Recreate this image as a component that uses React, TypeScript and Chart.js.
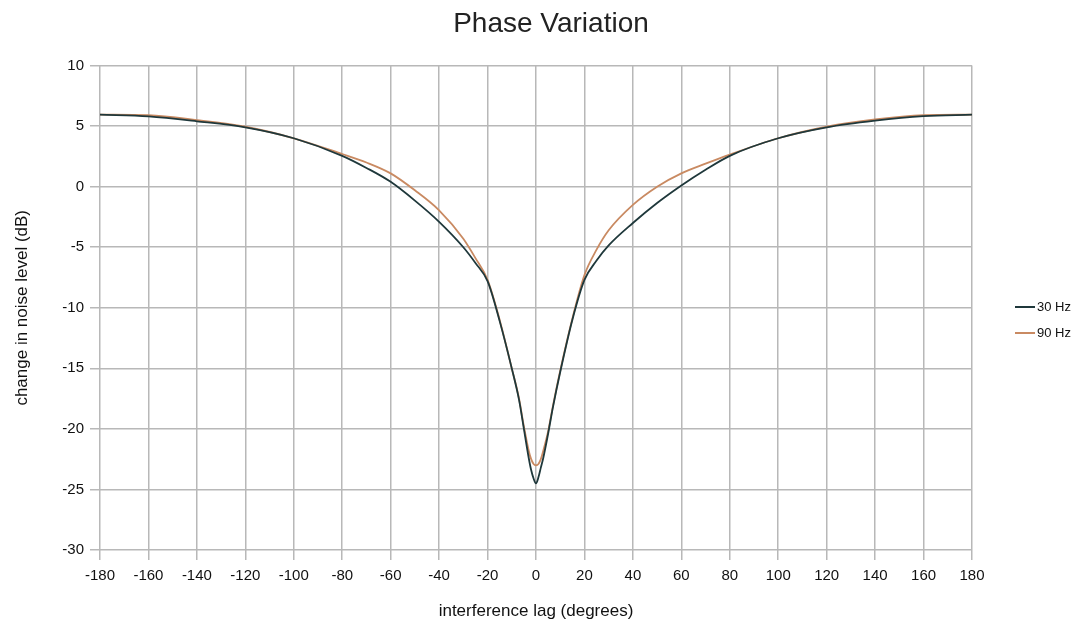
import React, { useEffect, useRef } from "react";
import { Chart, registerables } from "chart.js";

Chart.register(...registerables);

const chartTitle = "Phase Variation";
const xAxisTitle = "interference lag (degrees)";
const yAxisTitle = "change in noise level (dB)";

const seriesNames = ["30 Hz", "90 Hz"];
const seriesColors = ["#1f383b", "#c98a62"];

const lagDegrees = [
  -180, -160, -140, -120, -100, -80, -70, -60, -50, -40, -30, -25, -20, -15, -10, -7, -5, -3, -2, -1,
  0, 1, 2, 3, 5, 7, 10, 15, 20, 25, 30, 40, 50, 60, 70, 80, 100, 120, 140, 160, 180,
];

const noise30Hz = [
  5.95, 5.8, 5.4, 4.9, 4.0, 2.55, 1.55, 0.4, -1.15, -2.9, -5.0, -6.3, -7.8, -11.1, -15.0, -17.6, -20.0, -22.4, -23.4, -24.1,
  -24.5, -24.0, -23.2, -22.4, -20.4, -18.2, -15.3, -11.0, -7.7, -6.1, -4.85, -3.0, -1.35, 0.1, 1.4, 2.55, 4.0, 4.9, 5.45, 5.82, 5.95,
];

const noise90Hz = [
  5.95, 5.9, 5.5, 4.95, 4.0, 2.7, 2.0, 1.1, -0.3, -1.95, -4.3, -5.9, -7.7, -11.0, -15.0, -17.5, -19.8, -21.8, -22.5, -22.9,
  -23.0, -22.9, -22.5, -21.8, -20.2, -18.1, -15.2, -10.9, -7.3, -5.2, -3.6, -1.5, 0.0, 1.1, 1.9, 2.65, 4.0, 4.95, 5.55, 5.9, 5.95,
];

const xTicks = [-180, -160, -140, -120, -100, -80, -60, -40, -20, 0, 20, 40, 60, 80, 100, 120, 140, 160, 180];
const yTicks = [-30, -25, -20, -15, -10, -5, 0, 5, 10];

const FONT = "'Liberation Sans', Arial, sans-serif";

const legendPlugin = {
  id: "sideLegend",
  afterDraw(chart: any) {
    const ctx = chart.ctx;
    ctx.save();
    seriesNames.forEach((name, i) => {
      const y = 307 + i * 26;
      ctx.strokeStyle = seriesColors[i];
      ctx.lineWidth = 2;
      ctx.beginPath();
      ctx.moveTo(1015, y);
      ctx.lineTo(1035, y);
      ctx.stroke();
      ctx.fillStyle = "#111";
      ctx.font = `13px ${FONT}`;
      ctx.textBaseline = "middle";
      ctx.textAlign = "left";
      ctx.fillText(name, 1037, y);
    });
    ctx.restore();
  },
};

export default function App() {
  const canvasRef = useRef<HTMLCanvasElement | null>(null);

  useEffect(() => {
    const canvas = canvasRef.current;
    if (!canvas) return;
    const series = [noise30Hz, noise90Hz];
    const chart = new Chart(canvas, {
      type: "line",
      data: {
        datasets: series.map((vals, i) => ({
          label: seriesNames[i],
          data: lagDegrees.map((x, j) => ({ x, y: vals[j] })),
          borderColor: seriesColors[i],
          backgroundColor: seriesColors[i],
          borderWidth: 1.8,
          pointRadius: 0,
          cubicInterpolationMode: "monotone",
          fill: false,
          yAxisID: "y",
        })),
      },
      options: {
        responsive: false,
        animation: false,
        layout: { padding: { left: 16, right: 0, top: 0, bottom: 0 } },
        plugins: {
          legend: { display: false },
          tooltip: { enabled: false },
          title: {
            display: true,
            text: chartTitle,
            color: "#222",
            font: { family: FONT, size: 28, weight: "normal" },
            padding: { top: 7, bottom: 25 },
          },
        },
        scales: {
          x: {
            type: "linear",
            min: -180,
            max: 180,
            afterBuildTicks: (scale: any) => {
              scale.ticks = xTicks.map((v) => ({ value: v }));
            },
            afterFit: (scale: any) => {
              scale.height = 76;
            },
            ticks: {
              color: "#111",
              font: { family: FONT, size: 15 },
              padding: 7,
              maxRotation: 0,
              autoSkip: false,
            },
            grid: { color: "#b8b8b8", lineWidth: 1.5, tickLength: 10, drawTicks: true },
            border: { display: false },
            title: {
              display: true,
              text: xAxisTitle,
              color: "#111",
              font: { family: FONT, size: 17 },
              padding: { top: 10, bottom: 4 },
            },
          },
          y: {
            type: "linear",
            position: "left",
            min: -30,
            max: 10,
            afterBuildTicks: (scale: any) => {
              scale.ticks = yTicks.map((v) => ({ value: v }));
            },
            afterFit: (scale: any) => {
              scale.width = 84;
            },
            ticks: {
              color: "#111",
              font: { family: FONT, size: 15 },
              padding: 6,
              autoSkip: false,
            },
            grid: { color: "#b8b8b8", lineWidth: 1.5, tickLength: 10, drawTicks: true },
            border: { display: false },
            title: {
              display: true,
              text: yAxisTitle,
              color: "#111",
              font: { family: FONT, size: 17 },
              padding: { top: -4, bottom: 4 },
            },
          },
          legendSpace: {
            type: "linear",
            position: "right",
            display: true,
            afterFit: (scale: any) => {
              scale.width = 114;
            },
            grid: { display: false, drawTicks: false },
            border: { display: false },
            ticks: { display: false },
          },
        },
      },
      plugins: [legendPlugin],
    });
    return () => chart.destroy();
  }, []);

  return (
    <div style={{ position: "fixed", left: 0, top: 0, width: 1086, height: 626, background: "#fff" }}>
      <canvas ref={canvasRef} width={1086} height={626} style={{ width: 1086, height: 626, display: "block" }} />
    </div>
  );
}
